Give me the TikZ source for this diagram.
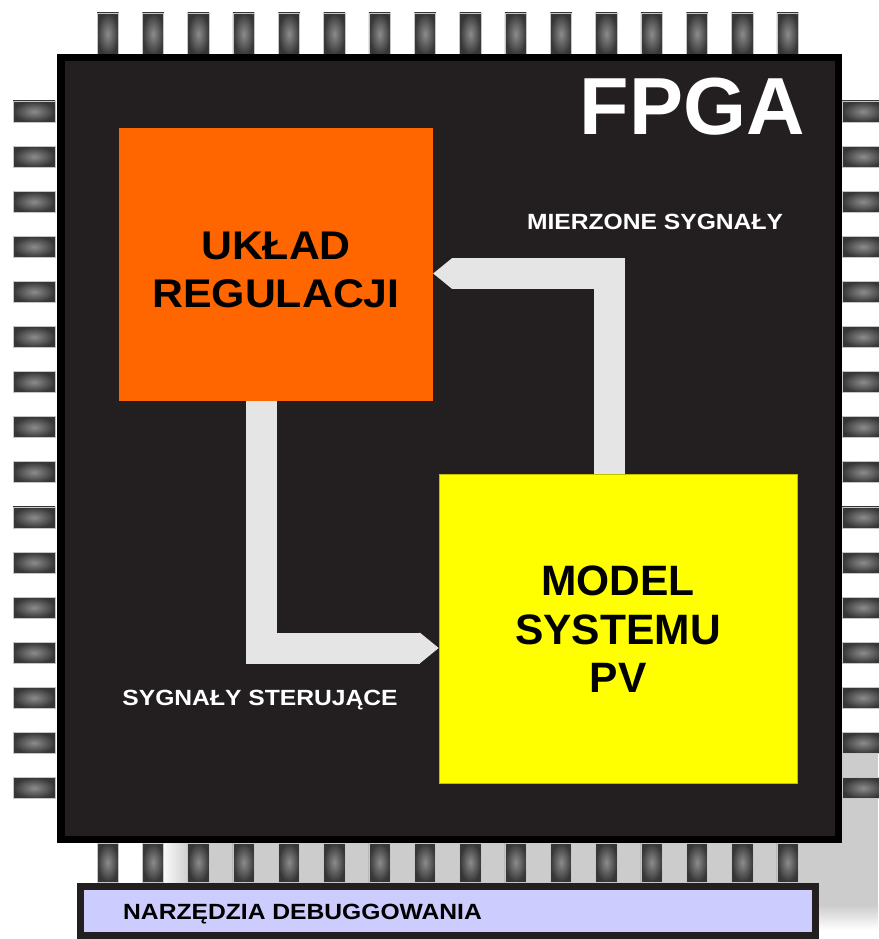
\documentclass[tikz,border=0pt]{standalone}
\usepackage{fontspec}
\setmainfont{Liberation Sans}
\usepackage{graphicx}
\usetikzlibrary{arrows.meta, positioning}

\definecolor{chipdark}{HTML}{231F20}
\definecolor{ukladorange}{HTML}{FF6600}
\definecolor{modelyellow}{HTML}{FFFF00}
\definecolor{debuglav}{HTML}{CCCCFF}
\definecolor{flowgray}{HTML}{E5E5E5}
\definecolor{shadowgray}{HTML}{CCCCCC}
\definecolor{pincenter}{HTML}{8C8C8C}
\definecolor{pinedge}{HTML}{363636}

\newcommand{\wide}[1]{\scalebox{1.12}[1]{#1}}
\newcommand{\halfwide}[1]{\scalebox{1.07}[1]{#1}}

\tikzset{
  chippin/.style={inner color=pincenter, outer color=pinedge, draw=gray!45, line width=0.8pt},
  block/.style={rectangle, inner sep=0pt},
  bigtext/.style={align=center, text=black, inner sep=0pt, font=\bfseries\fontsize{42.5}{48.5}\selectfont},
  signal/.style={text=white, inner sep=0pt, font=\bfseries\fontsize{22}{26}\selectfont},
  flow/.style={draw=flowgray, line width=31pt, line join=miter,
    -{Triangle[width=31pt, length=19pt, line width=0pt]}},
}

\begin{document}
\begin{tikzpicture}[x=1pt, y=-1pt]
  \useasboundingbox (0,0) rectangle (878,939);

  % shadow behind the chip
  \fill[shadowgray] (190,752) rectangle (878,905);
  \shade[left color=white, right color=shadowgray] (160,752) rectangle (190,905);
  \shade[top color=shadowgray, bottom color=white] (190,905) rectangle (878,930);

  % pins
  \foreach \i in {0,...,15} {
    \shadedraw[chippin] ({97+45.33*\i},13) rectangle ++(21.5,42);
    \shadedraw[chippin] ({97+45.33*\i},843) rectangle ++(21.5,39);
    \shadedraw[chippin] (13,{101+45.1*\i}) rectangle ++(42,21);
    \shadedraw[chippin] (842,{101+45.1*\i}) rectangle ++(42,21);
  }

  % chip body
  \node (chip) [fill=chipdark, draw=black, line width=7.5pt, minimum width=777.5pt,
    minimum height=781.5pt, inner sep=0pt] at (449.5,448.5) {};
  \node (fpga) [anchor=base east, text=white, inner sep=0pt,
    font=\bfseries\fontsize{81}{81}\selectfont] at (805,135) {FPGA};

  % blocks
  \node (uklad) [block, fill=ukladorange, minimum width=314pt, minimum height=273pt] at (276,264.5) {};
  \node (model) [block, fill=modelyellow, draw=modelyellow!75!black, line width=0.6pt,
    minimum width=358pt, minimum height=309pt] at (618,628.5) {};
  \node (ukladtxt) [bigtext, font=\bfseries\fontsize{40}{48}\selectfont] at ([yshift=-5.5pt]uklad)
    {\halfwide{UKŁAD}\\\halfwide{REGULACJI}};
  \node (modeltxt) [bigtext] at ([yshift=-1pt]model) {MODEL\\SYSTEMU\\PV};

  % signals
  \draw[flow] ([xshift=-14.5pt]uklad.south) |- ([yshift=-19.5pt]model.west);
  \draw[flow] ([xshift=-9pt]model.north) |- ([yshift=-9pt]uklad.east);
  \node (mierzone) [signal, anchor=base] at (655,229) {\wide{MIERZONE SYGNAŁY}};
  \node (sterujace) [signal, anchor=base] at (260,705) {\wide{SYGNAŁY STERUJĄCE}};

  % debug bar
  \node (debug) [fill=debuglav, draw=chipdark, line width=7pt, minimum width=735pt,
    minimum height=49pt, inner sep=0pt] at (448,911) {};
  \node (debugtxt) [signal, text=black, anchor=base west] at (123,919) {\wide{NARZĘDZIA DEBUGGOWANIA}};
\end{tikzpicture}
\end{document}
